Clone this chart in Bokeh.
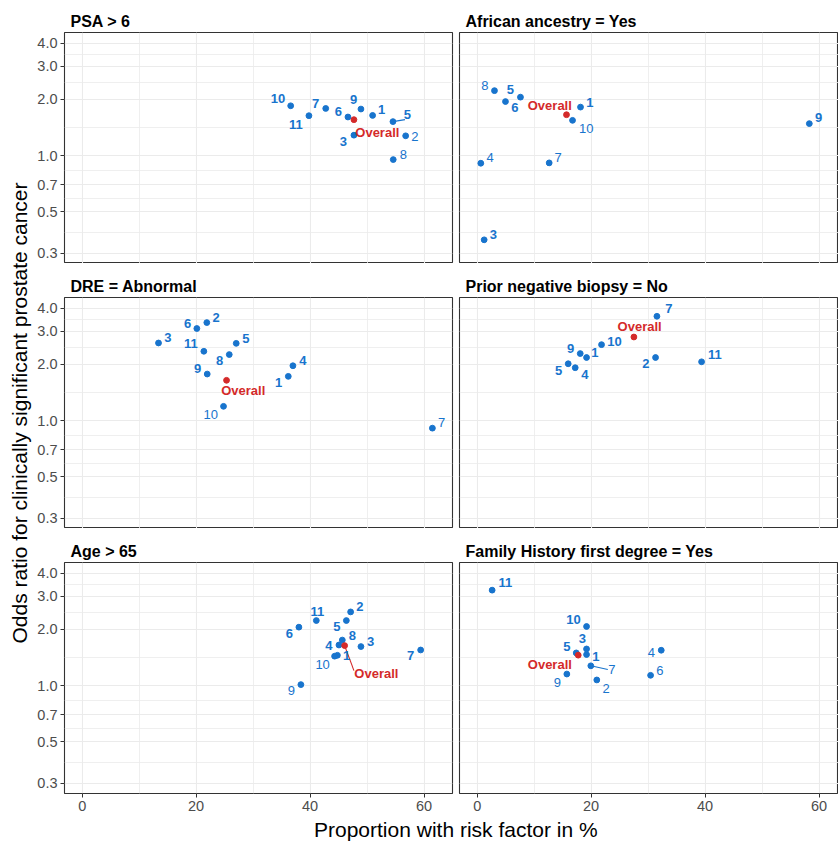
import math
from bokeh.plotting import figure
from bokeh.models import Range1d, FixedTicker, PrintfTickFormatter, ColumnDataSource
from bokeh.layouts import column, row
from bokeh.core.properties import value
from bokeh.embed import file_html
from bokeh.resources import INLINE

# ------------------------------------------------------------------ data
panel_titles = ["PSA > 6", "African ancestry = Yes", "DRE = Abnormal",
                "Prior negative biopsy = No", "Age > 65",
                "Family History first degree = Yes"]

psa_study = ["1", "2", "3", "5", "6", "7", "8", "9", "10", "11"]
psa_prop = [50.98, 56.78, 47.7, 54.55, 46.65, 42.75, 54.6, 48.93, 36.6, 39.8]
psa_or = [1.641, 1.276, 1.286, 1.52, 1.609, 1.788, 0.952, 1.775, 1.848, 1.635]
psa_sig = [1, 0, 1, 1, 1, 1, 0, 1, 1, 1]
psa_overall = [47.7, 1.557]

afr_study = ["1", "3", "4", "5", "6", "7", "8", "9", "10"]
afr_prop = [18.14, 1.23, 0.64, 7.6, 4.97, 12.64, 3.04, 58.3, 16.74]
afr_or = [1.818, 0.354, 0.91, 2.055, 1.947, 0.914, 2.227, 1.483, 1.544]
afr_sig = [1, 1, 0, 1, 1, 0, 0, 1, 0]
afr_overall = [15.68, 1.655]

dre_study = ["1", "2", "3", "4", "5", "6", "7", "8", "9", "10", "11"]
dre_prop = [36.18, 21.88, 13.4, 36.99, 27.04, 20.13, 61.47, 25.82, 21.95, 24.81, 21.36]
dre_or = [1.725, 3.347, 2.603, 1.966, 2.591, 3.111, 0.911, 2.257, 1.775, 1.192, 2.35]
dre_sig = [1, 1, 1, 1, 1, 1, 0, 1, 1, 0, 1]
dre_overall = [25.34, 1.643]

pnb_study = ["1", "2", "4", "5", "7", "9", "10", "11"]
pnb_prop = [19.2, 31.31, 17.21, 15.98, 31.55, 18.09, 21.83, 39.39]
pnb_or = [2.176, 2.176, 1.919, 2.015, 3.618, 2.285, 2.55, 2.064]
pnb_sig = [1, 1, 1, 1, 1, 1, 1, 1]
pnb_overall = [27.51, 2.802]

age_study = ["1", "2", "3", "4", "5", "6", "7", "8", "9", "10", "11"]
age_prop = [44.8, 47.12, 48.93, 45.07, 46.37, 38.04, 59.41, 45.66, 38.39, 44.31, 41.1]
age_or = [1.453, 2.48, 1.618, 1.649, 2.23, 2.055, 1.551, 1.753, 1.012, 1.437, 2.23]
age_sig = [1, 1, 1, 1, 1, 1, 1, 1, 0, 0, 1]
age_overall = [46.07, 1.637]

fam_study = ["1", "2", "3", "4", "5", "6", "7", "9", "10", "11"]
fam_prop = [19.2, 21.0, 19.2, 32.31, 17.39, 30.44, 19.95, 15.74, 19.2, 2.63]
fam_or = [1.466, 1.072, 1.571, 1.546, 1.496, 1.135, 1.276, 1.153, 2.072, 3.243]
fam_sig = [1, 0, 1, 0, 1, 0, 0, 0, 1, 1]
fam_overall = [17.74, 1.455]

x_ticks = [0, 20, 40, 60]
x_minor = [10, 30, 50]
y_ticks = [0.3, 0.5, 0.7, 1.0, 2.0, 3.0, 4.0]

x_title = "Proportion with risk factor in %"
y_title = "Odds ratio for clinically significant prostate cancer"

# ------------------------------------------------ label placement (pixels)
psa_off = {"1": (9, -5.7), "2": (9.3, 0.4), "3": (-10.6, 6), "5": (14.4, -7),
           "6": (-9.6, -5.3), "7": (-10, -5.4), "8": (10, -5), "9": (-7.3, -9.3),
           "10": (-12.7, -7), "11": (-13, 8.7)}
afr_off = {"1": (9.3, -5), "3": (9.3, -5), "4": (9.4, -5.3), "5": (-10, -7.3),
           "6": (9.3, 6), "7": (9, -5.7), "8": (-9.7, -5), "9": (9.3, -5.7),
           "10": (13.7, 8)}
dre_off = {"1": (-9.7, 6), "2": (9.4, -5), "3": (9.3, -5.3), "4": (10, -5),
           "5": (9.6, -5), "6": (-9.3, -5.4), "7": (9.3, -5.3), "8": (-9.7, 6.3),
           "9": (-9.7, -5.4), "10": (-12.7, 8.4), "11": (-13, -7.4)}
pnb_off = {"1": (8.3, -5), "2": (-9.7, 6.3), "4": (9.6, 6.7), "5": (-9.7, 6.4),
           "7": (12, -7.3), "9": (-9.7, -5), "10": (13, -3.3), "11": (13.3, -7.3)}
age_off = {"1": (9.3, 0.3), "2": (9.3, -5.3), "3": (9.7, -5.3), "4": (-10, 0.6),
           "5": (-9.4, 6), "6": (-9.6, 6.3), "7": (-10, 5.6), "8": (10, -4.4),
           "9": (-9.6, 6.3), "10": (-12, 8.3), "11": (1, -9.3)}
fam_off = {"1": (9.3, 1.7), "2": (9.4, 8.7), "3": (-4.3, -10.7), "4": (-10, 2.7),
           "5": (-9.4, -6), "6": (9.3, -5), "7": (21, 4), "9": (-9.6, 8.7),
           "10": (-13, -7.3), "11": (13.3, -7.3)}
overall_off = [(23.4, 13), (-16.7, -9.7), (16.7, 10), (5.7, -10.3), (31.7, 28), (-28.4, 9.3)]
# leader segments (end point offsets in px)
study_segs = [{"5": (12, -2)}, {}, {}, {}, {}, {"7": (17, 3.6)}]
overall_segs = [None, None, None, None, (9.3, 25), None]

panels = [
    (psa_study, psa_prop, psa_or, psa_sig, psa_overall, psa_off),
    (afr_study, afr_prop, afr_or, afr_sig, afr_overall, afr_off),
    (dre_study, dre_prop, dre_or, dre_sig, dre_overall, dre_off),
    (pnb_study, pnb_prop, pnb_or, pnb_sig, pnb_overall, pnb_off),
    (age_study, age_prop, age_or, age_sig, age_overall, age_off),
    (fam_study, fam_prop, fam_or, fam_sig, fam_overall, fam_off),
]

# ------------------------------------------------------------------ style
BLUE = "#1874CD"
RED = "#D42A2A"
GRID = "#EBEBEB"
BORDER = "#333333"
TICKC = "#4D4D4D"
FONT = "Liberation Sans"

XMIN, XMAX = -3.1, 65.0
YMIN, YMAX = 0.2644, 4.56
YT_W = 32
FW_L, FW_R = 388, 379
UNIT_PER_PX = (XMAX - XMIN) / FW_L
LOGSPAN = math.log10(YMAX) - math.log10(YMIN)

y_minor = [math.sqrt(a * b) for a, b in zip(y_ticks[:-1], y_ticks[1:])]


def make_panel(i, left, top_b, fh, bottom_b):
    study, prop, orv, sig, overall, off = panels[i]
    fw = FW_L if left else FW_R
    bl = 64 - YT_W if left else 4
    br = 3 if left else 0
    xmax = XMIN + fw * UNIT_PER_PX

    def shift(x, y, dx, dy):
        return (x + dx * UNIT_PER_PX, 10 ** (math.log10(y) - dy * LOGSPAN / fh))

    p = figure(width=bl + fw + br, height=top_b + fh + bottom_b,
               y_axis_type="log",
               x_range=Range1d(XMIN, xmax), y_range=Range1d(YMIN, YMAX),
               x_axis_location="below" if bottom_b > 0 else None,
               y_axis_location="left" if left else None,
               min_border_left=bl, min_border_right=br,
               min_border_top=top_b, min_border_bottom=bottom_b,
               output_backend="svg", toolbar_location=None)
    p.background_fill_color = "white"
    p.border_fill_color = "white"
    p.outline_line_color = BORDER
    p.outline_line_width = 1.1

    p.xgrid.ticker = FixedTicker(ticks=x_ticks, minor_ticks=x_minor)
    p.ygrid.ticker = FixedTicker(ticks=y_ticks, minor_ticks=y_minor)
    for g in (p.xgrid, p.ygrid):
        g.grid_line_color = GRID
        g.grid_line_width = 1.1
        g.minor_grid_line_color = GRID
        g.minor_grid_line_width = 0.8

    if left:
        ax = p.yaxis[0]
        ax.ticker = FixedTicker(ticks=y_ticks, minor_ticks=y_minor)
        ax.formatter = PrintfTickFormatter(format="%.1f")
    if bottom_b > 0:
        ax = p.xaxis[0]
        ax.ticker = FixedTicker(ticks=x_ticks, minor_ticks=x_minor)
    for ax in list(p.xaxis) + list(p.yaxis):
        ax.axis_line_color = None
        ax.minor_tick_line_color = None
        ax.major_tick_in = 0
        ax.major_tick_out = 4
        ax.major_tick_line_color = BORDER
        ax.major_label_standoff = 3
        ax.major_label_text_color = TICKC
        ax.major_label_text_font = FONT
        ax.major_label_text_font_size = "14.5px"

    p.title.text = panel_titles[i]
    p.title.text_font = FONT
    p.title.text_font_size = "16px"
    p.title.text_font_style = "bold"
    p.title.text_color = "black"
    p.title.align = "left"
    p.title.offset = 6
    p.title.standoff = 6

    segs = study_segs[i]
    sx0, sy0, sx1, sy1 = [], [], [], []
    for s, (dx, dy) in segs.items():
        k = study.index(s)
        ex, ey = shift(prop[k], orv[k], dx, dy)
        sx0.append(prop[k]); sy0.append(orv[k]); sx1.append(ex); sy1.append(ey)
    if sx0:
        p.segment(sx0, sy0, sx1, sy1, line_color=BLUE, line_width=1.1)
    if overall_segs[i] is not None:
        dx, dy = overall_segs[i]
        ex, ey = shift(overall[0], overall[1], dx, dy)
        p.segment([overall[0]], [overall[1]], [ex], [ey], line_color=RED, line_width=1.1)

    p.scatter(prop, orv, size=5.8, color=BLUE)
    p.scatter([overall[0]], [overall[1]], size=5.8, color=RED)

    for style, flag in (("bold", 1), ("normal", 0)):
        ks = [k for k in range(len(study)) if sig[k] == flag]
        if not ks:
            continue
        src = ColumnDataSource(dict(
            x=[prop[k] for k in ks], y=[orv[k] for k in ks],
            t=[study[k] for k in ks],
            dx=[off[study[k]][0] for k in ks], dy=[off[study[k]][1] for k in ks]))
        p.text(x="x", y="y", text="t", x_offset="dx", y_offset="dy", source=src,
               text_align="center", text_baseline="middle",
               text_font=value(FONT), text_font_size="13px",
               text_font_style=style, text_color=BLUE)
    odx, ody = overall_off[i]
    p.text(x=[overall[0]], y=[overall[1]], text=["Overall"],
           x_offset=odx, y_offset=ody, text_align="center", text_baseline="middle",
           text_font=value(FONT), text_font_size="13px", text_font_style="bold",
           text_color=RED)
    return p


# (top border, frame height, bottom border) per row
rows_spec = [(32, 231, 0), (34, 231, 0), (34, 231, 23)]
grid_rows = []
for r, (tb, fh, bb) in enumerate(rows_spec):
    grid_rows.append(row(make_panel(2 * r, True, tb, fh, bb),
                         make_panel(2 * r + 1, False, tb, fh, bb)))
GRID_H = sum(tb + fh + bb for tb, fh, bb in rows_spec)
TOTAL_W = YT_W + (64 - YT_W + FW_L + 3) + (4 + FW_R)
PANEL_MID = (32 + GRID_H - 23) / 2

# y-axis title strip (left)
yt = figure(width=YT_W, height=GRID_H, x_range=Range1d(0, YT_W), y_range=Range1d(0, GRID_H),
            x_axis_location=None, y_axis_location=None, min_border=0, title=None,
            output_backend="svg", toolbar_location=None)
yt.outline_line_color = None
yt.grid.visible = False
yt.text(x=[19], y=[GRID_H - PANEL_MID], text=[y_title], angle=math.pi / 2,
        text_align="center", text_baseline="middle", text_font=value(FONT),
        text_font_size="21px", text_color="black")

# x-axis title strip (bottom)
XT_H = 841 - GRID_H
xt = figure(width=TOTAL_W, height=XT_H, x_range=Range1d(0, TOTAL_W), y_range=Range1d(0, XT_H),
            x_axis_location=None, y_axis_location=None, min_border=0, title=None,
            output_backend="svg", toolbar_location=None)
xt.outline_line_color = None
xt.grid.visible = False
xt.text(x=[455.3], y=[XT_H / 2], text=[x_title], text_align="center",
        text_baseline="middle", text_font=value(FONT), text_font_size="21px",
        text_color="black")

layout = column(row(yt, column(*grid_rows)), xt)
open("out.html", "w").write(file_html(layout, INLINE))
